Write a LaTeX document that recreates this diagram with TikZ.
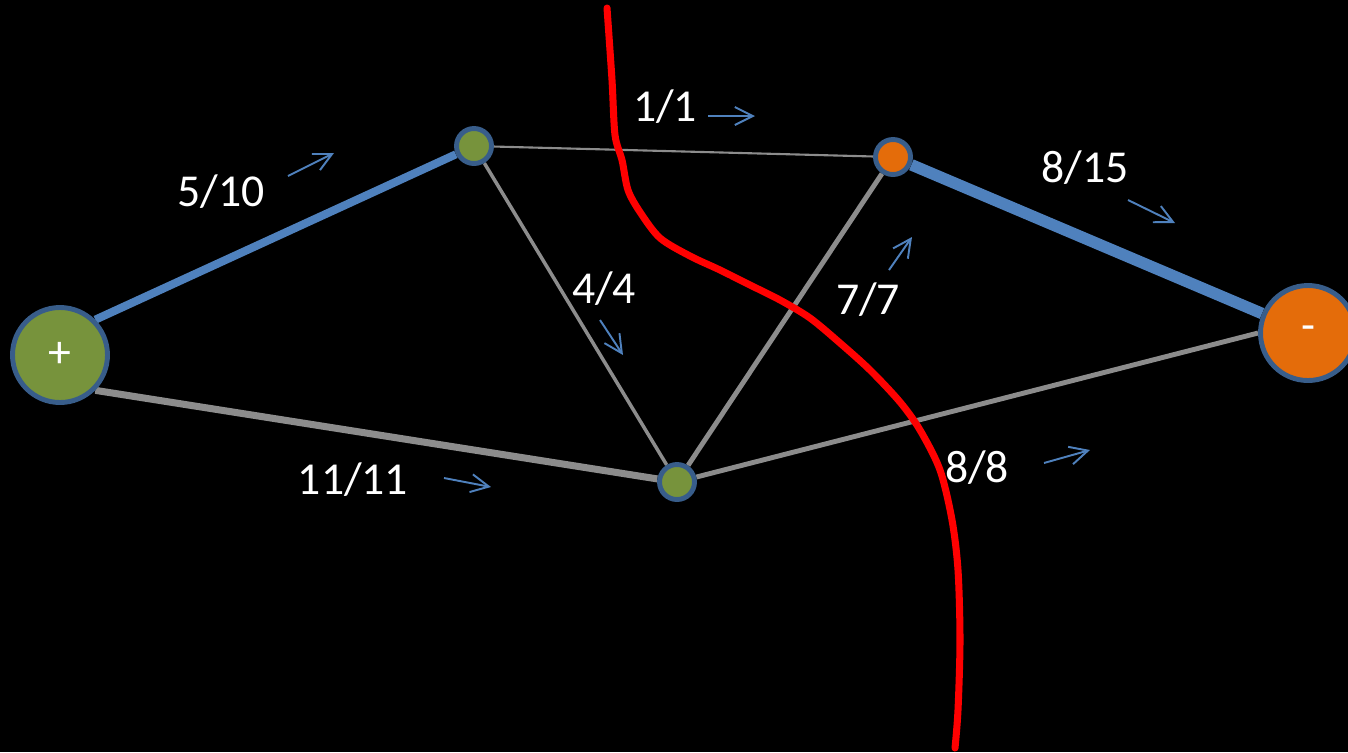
\documentclass[tikz,border=0pt]{standalone}
\usepackage{fontspec}
\setmainfont{Carlito}
\usepackage{xcolor}
\usepackage{tikz}
\usetikzlibrary{arrows.meta, backgrounds}
\definecolor{azulp}{HTML}{4F81BD}
\definecolor{verde}{HTML}{77933C}
\definecolor{naranja}{HTML}{E46C0A}
\definecolor{borde}{HTML}{385D8A}
\definecolor{gris}{HTML}{8C8C8C}

\begin{document}
\begin{tikzpicture}[
    nodo/.style={circle, draw=borde, line width=1.4pt, minimum size=0.35cm, inner sep=0pt},
    terminal/.style={nodo, minimum size=0.95cm, text=white, font=\fontsize{13}{15}\selectfont},
    arista/.style={gris, line width=#1},
    flujo/.style={azulp, line width=#1},
    etiqueta/.style={text=white, font=\fontsize{13}{15}\selectfont, inner sep=0pt},
    flecha/.style={-{Straight Barb[length=1.8mm, width=1.8mm]}, azulp, line width=0.55pt},
    corte/.style={red, line width=2pt, line cap=round}
]

\useasboundingbox (0,0) rectangle (13.48,7.52);

% vertices
\node (fuente) [terminal, fill=verde] at (0.60,3.97) {+};
\node (n1) [nodo, fill=verde] at (4.74,6.06) {};
\node (n2) [nodo, fill=verde] at (6.77,2.70) {};
\node (n3) [nodo, fill=naranja] at (8.93,5.95) {};
\node (sumidero) [terminal, fill=naranja] at (13.08,4.19) {-};

\begin{pgfonlayer}{background}
\fill[black] (0,0) rectangle (13.48,7.52);

% aristas
\draw [flujo=2.3pt] (fuente.north east) -- (n1);
\draw [arista=2pt] (fuente.south east) -- (n2);
\draw [arista=0.6pt] (n1) -- (n3);
\draw [arista=1pt] (n1) -- (n2);
\draw [arista=1.4pt] (n2) -- (n3);
\draw [arista=1.4pt] (n2) -- (sumidero.west);
\draw [flujo=3.3pt] (n3) -- (sumidero);

% corte
\draw [corte] plot[smooth, tension=0.5] coordinates {(6.07,7.44) (6.12,6.72) (6.15,6.17) (6.22,5.92) (6.28,5.62) (6.40,5.40) (6.60,5.14) (6.90,4.96) (7.20,4.82) (7.50,4.67) (7.80,4.52) (8.10,4.34) (8.40,4.09) (8.70,3.82) (9.00,3.50) (9.20,3.22) (9.40,2.82) (9.52,2.32) (9.58,1.82) (9.60,1.12) (9.58,0.42) (9.55,0.04)};
\end{pgfonlayer}

% etiquetas
\node (e510) [etiqueta] at (2.21,5.60) {5/10};
\node (e11) [etiqueta] at (6.65,6.45) {1/1};
\node (e815) [etiqueta] at (10.85,5.84) {8/15};
\node (e44) [etiqueta] at (6.04,4.63) {4/4};
\node (e77) [etiqueta] at (8.68,4.52) {7/7};
\node (e1111) [etiqueta] at (3.53,2.72) {11/11};
\node (e88) [etiqueta] at (9.77,2.84) {8/8};

% flechas
\draw [flecha] (2.88,5.76) -- (3.34,5.99);
\draw [flecha] (7.08,6.36) -- (7.55,6.36);
\draw [flecha] (11.28,5.52) -- (11.75,5.29);
\draw [flecha] (6.00,4.32) -- (6.23,3.97);
\draw [flecha] (8.89,4.82) -- (9.12,5.15);
\draw [flecha] (4.44,2.74) -- (4.91,2.65);
\draw [flecha] (10.44,2.89) -- (10.90,3.02);

\end{tikzpicture}
\end{document}
